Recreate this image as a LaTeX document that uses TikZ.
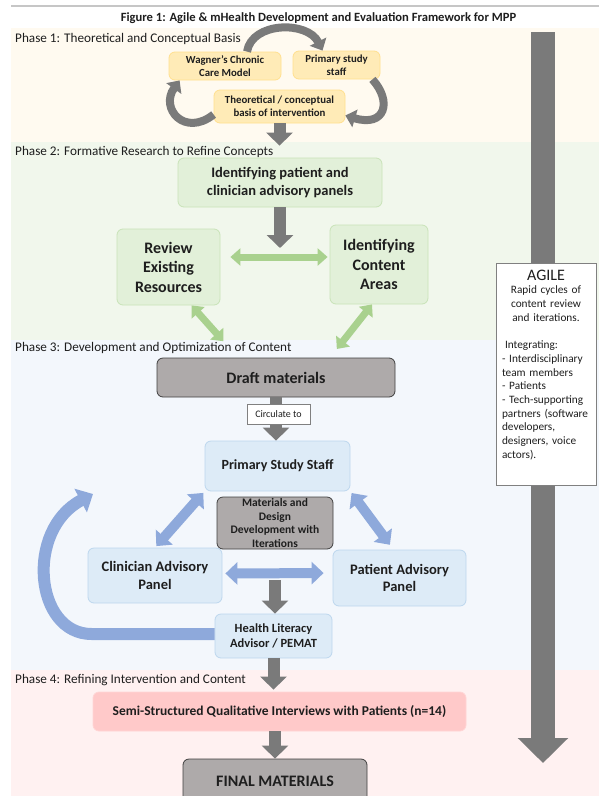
\documentclass[tikz,border=0pt]{standalone}
\usepackage{fontspec}
\setmainfont{Carlito}
\definecolor{phaseone}{RGB}{255, 250, 240}
\definecolor{phasetwo}{RGB}{241, 247, 236}
\definecolor{phasethree}{RGB}{243, 247, 252}
\definecolor{phasefour}{RGB}{255, 241, 241}
\definecolor{yellowfill}{RGB}{255, 235, 183}
\definecolor{yellowedge}{RGB}{255, 224, 143}
\definecolor{greenfill}{RGB}{226, 240, 217}
\definecolor{greenedge}{RGB}{201, 227, 184}
\definecolor{bluefill}{RGB}{221, 235, 247}
\definecolor{blueedge}{RGB}{189, 215, 238}
\definecolor{pinkfill}{RGB}{255, 201, 201}
\definecolor{pinkedge}{RGB}{255, 213, 213}
\definecolor{grayfill}{RGB}{174, 170, 170}
\definecolor{grayedge}{RGB}{64, 64, 64}
\definecolor{arrowgray}{RGB}{122, 122, 122}
\definecolor{arrowgreen}{RGB}{169, 209, 142}
\definecolor{arrowblue}{RGB}{142, 169, 219}
\definecolor{inkgray}{RGB}{30, 30, 30}
\usepackage{tikz}
\usetikzlibrary{arrows.meta, positioning}

\begin{document}
\begin{tikzpicture}[x=1pt, y=-1pt, text=inkgray,
    phase/.style={anchor=west, inner sep=0pt, font=\fontsize{13.2}{16}\selectfont},
    box/.style={rectangle, rounded corners=6pt, align=center, inner sep=2pt, line width=0.8pt},
    yellowbox/.style={box, draw=yellowedge, fill=yellowfill, font=\fontsize{10.8}{13}\selectfont\bfseries},
    greenbox/.style={box, draw=greenedge, fill=greenfill},
    bluebox/.style={box, draw=blueedge, fill=bluefill},
    graybox/.style={box, draw=grayedge, fill=grayfill},
    pinkbox/.style={box, draw=pinkedge, fill=pinkfill},
    grayarrow/.style={-{Triangle[width=26pt, length=13pt]}, line width=12pt, color=arrowgray},
    cyclearrow/.style={-{Triangle[width=18pt, length=10pt]}, line width=8pt, color=arrowgray},
    greenarrow/.style={{Triangle[width=17pt, length=10pt]}-{Triangle[width=17pt, length=10pt]}, line width=7pt, color=arrowgreen},
    bluearrow/.style={{Triangle[width=22pt, length=12pt]}-{Triangle[width=22pt, length=12pt]}, line width=10pt, color=arrowblue},
    looparrow/.style={-{Triangle[width=26pt, length=14pt]}, line width=12pt, color=arrowblue},
    bigarrow/.style={-{Triangle[width=49pt, length=25pt]}, line width=24pt, color=arrowgray}
  ]
  \path[use as bounding box] (0,0) rectangle (599,796);
  \clip (0,0) rectangle (599,796);
  \fill[white] (0,0) rectangle (599,796);
  \fill[phaseone] (11,28) rectangle (599,142);
  \fill[phasetwo] (11,142) rectangle (599,340);
  \fill[phasethree] (11,340) rectangle (599,670);
  \fill[phasefour] (11,670) rectangle (599,796);
  \draw[gray!45, line width=1.5pt] (11,6) -- (599,6);

  \node[font=\fontsize{12.6}{15}\selectfont\bfseries] (title) at (318.5,18) {Figure 1: Agile \& mHealth Development and Evaluation Framework for MPP};
  \node[phase] (ph1) at (15,39) {Phase 1: Theoretical and Conceptual Basis};
  \node[phase] (ph2) at (15,152) {Phase 2: Formative Research to Refine Concepts};
  \node[phase] (ph3) at (15,348) {Phase 3: Development and Optimization of Content};
  \node[phase] (ph4) at (15,680) {Phase 4: Refining Intervention and Content};

  \coordinate (agiletop) at (543,32);
  \coordinate (agilebot) at (543,763);
  \draw[bigarrow] (agiletop) -- (agilebot);
  \node[draw=gray, fill=white, line width=0.8pt, minimum width=100pt, minimum height=222pt] (agile) at (546,374) {};
  \node[below=7pt of agile.north, inner sep=0pt, text width=88pt, align=left, font=\fontsize{11.3}{13.7}\selectfont] (agiletxt)
    {{\centering{\fontsize{16}{18}\selectfont AGILE}\\Rapid cycles of\\content review\\and iterations.\par}
     \vspace{13.7pt}
     \hspace*{3pt}Integrating:\\- Interdisciplinary\\team members\\- Patients\\- Tech-supporting\\partners (software\\developers,\\designers, voice\\actors).};

  \node[yellowbox, minimum width=112pt, minimum height=28pt] (wag) at (225,66) {Wagner’s Chronic\\Care Model};
  \node[yellowbox, minimum width=87pt, minimum height=28pt] (pss1) at (336.5,65) {Primary study\\staff};
  \node[yellowbox, minimum width=131pt, minimum height=33pt] (theo) at (279.5,106.5) {Theoretical / conceptual\\basis of intervention};

  \node[greenbox, minimum width=204pt, minimum height=49pt, font=\fontsize{14.5}{18}\selectfont\bfseries] (ident) at (280,182.5) {Identifying patient and\\clinician advisory panels};
  \node[greenbox, minimum width=103pt, minimum height=76pt, font=\fontsize{16}{19.5}\selectfont\bfseries] (rev) at (168.5,267) {Review\\Existing\\Resources};
  \node[greenbox, minimum width=98pt, minimum height=79pt, font=\fontsize{16}{19.5}\selectfont\bfseries] (cont) at (379,264.5) {Identifying\\Content\\Areas};
  \coordinate (fork) at (280,248);

  \node[graybox, minimum width=238pt, minimum height=39pt, font=\fontsize{16}{19}\selectfont\bfseries] (draft) at (276,377.5) {Draft materials};
  \node[bluebox, minimum width=145pt, minimum height=50pt, font=\fontsize{14}{17}\selectfont\bfseries] (pss) at (277.5,466) {Primary Study Staff};
  \node[graybox, minimum width=116pt, minimum height=52pt, inner sep=1pt, font=\fontsize{11.5}{13.7}\selectfont\bfseries] (mat) at (275,523) {Materials and\\Design\\Development with\\Iterations};
  \node[bluebox, minimum width=134pt, minimum height=55pt, font=\fontsize{14.5}{17.4}\selectfont\bfseries] (clin) at (155,575.5) {Clinician Advisory\\Panel};
  \node[bluebox, minimum width=133pt, minimum height=56pt, font=\fontsize{14.5}{17.4}\selectfont\bfseries] (pat) at (399.5,578) {Patient Advisory\\Panel};
  \node[bluebox, minimum width=117pt, minimum height=44pt, font=\fontsize{12.5}{15}\selectfont\bfseries] (hl) at (273.5,636) {Health Literacy\\Advisor / PEMAT};
  \coordinate (loopend) at (93,494);

  \node[pinkbox, minimum width=373pt, minimum height=39pt, font=\fontsize{13.5}{16}\selectfont\bfseries] (semi) at (279.5,711.5) {Semi-Structured Qualitative Interviews with Patients (n=14)};
  \node[graybox, minimum width=184pt, minimum height=44pt, font=\fontsize{16}{19}\selectfont\bfseries] (final) at (275,781) {FINAL MATERIALS};

  \draw[cyclearrow] ([xshift=22pt]wag.north) .. controls +(5,-30) and +(-15,-30) .. ([xshift=-14pt]pss1.north);
  \draw[cyclearrow] ([xshift=-8pt]pss1.south east) .. controls +(20,22) and +(40,12) .. ([yshift=-9pt]theo.east);
  \draw[cyclearrow] ([yshift=-8pt]theo.west) .. controls +(-29,23) and +(-20,28) .. ([xshift=11pt]wag.south west);
  \draw[grayarrow, shorten >=12pt] (theo.south) -- (theo.south |- ident.north);
  \draw[grayarrow] (ident.south) -- (fork);
  \draw[greenarrow, shorten <=10pt, shorten >=2pt] ([yshift=10pt]rev.east) -- ([yshift=7.5pt]cont.west);
  \draw[greenarrow, shorten >=22pt] ([xshift=23pt]rev.south) -- ([xshift=-38pt]draft.north);
  \draw[greenarrow, shorten >=11pt] ([xshift=-7pt]cont.south) -- ([xshift=54pt]draft.north);
  \draw[grayarrow] (draft.south) -- (draft.south |- pss.north);
  \node[draw=gray, fill=white, line width=0.6pt, minimum width=63pt, minimum height=20pt, font=\fontsize{10}{12}\selectfont] (circ) at (278.5,414) {Circulate to};
  \draw[bluearrow, shorten <=2pt, shorten >=2pt] (pss.south west) -- (clin.north);
  \draw[bluearrow, shorten <=2pt, shorten >=6pt] (pss.south east) -- ([xshift=-6pt]pat.north);
  \draw[bluearrow, shorten <=3pt, shorten >=9pt] ([yshift=2pt]clin.east) -- ([yshift=5pt]pat.west);
  \draw[grayarrow, shorten <=31pt] (mat.south) -- (mat.south |- hl.north);
  \draw[looparrow] ([yshift=2pt]hl.west) -- ++(-123,0) .. controls +(-57,0) and +(-68,36) .. (loopend);
  \draw[grayarrow, shorten >=2pt] (hl.south) -- (hl.south |- semi.north);
  \draw[grayarrow] (final.north |- semi.south) -- (final.north);
\end{tikzpicture}
\end{document}
